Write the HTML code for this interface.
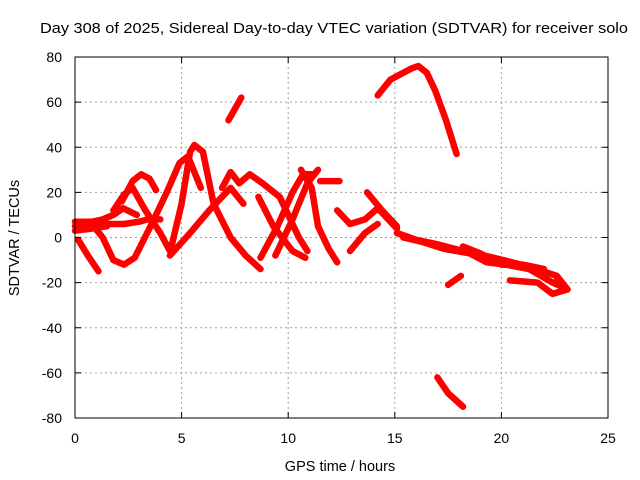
<!DOCTYPE html>
<html><head><meta charset="utf-8"><style>
html,body{margin:0;padding:0;background:#fff;}
svg{display:block;font-family:"Liberation Sans",sans-serif;}
</style></head><body>
<svg id="chart" width="640" height="480" viewBox="0 0 640 480">
<text x="40" y="33" font-size="15" textLength="588" lengthAdjust="spacingAndGlyphs">Day 308 of 2025, Sidereal Day-to-day VTEC variation (SDTVAR) for receiver solo</text>
<g id="grid"></g>
<g id="series"></g>
<rect x="75" y="57" width="533" height="361" fill="none" stroke="#000" stroke-width="1"/>
<g id="ticks"></g>
<text x="340" y="471" font-size="14.5" text-anchor="middle">GPS time / hours</text>
<text transform="translate(19,238) rotate(-90)" font-size="14.5" text-anchor="middle">SDTVAR / TECUs</text>
</svg>
<script>
const xTicks = [0,5,10,15,20,25];
const yTicks = [-80,-60,-40,-20,0,20,40,60,80];
// tracks: arrays of [hour] and matching [SDTVAR]
const trackHours = [
 [0.15,0.6,1.1],
 [0,0.8,1.3,1.8,2.25,2.9],
 [0,0.8,1.6,2.3,3.0,3.4,4.0],
 [0,0.8,1.5],
 [0.7,1.3,1.8,2.3,2.8,3.7,4.3,4.9,5.3,5.9],
 [1.8,2.3,2.7,3.3,4.0,4.45],
 [2.2,2.7,3.1,3.5,3.8],
 [4.5,5.0,5.4,5.6,6.0,6.5,7.3,8.0,8.7],
 [4.45,5.4,6.3,7.3,7.9],
 [6.9,7.3,7.7,8.2,8.8,9.6,10.0,10.5,10.9],
 [7.2,7.8],
 [8.7,9.5,10.2,10.7,11.2],
 [9.4,10.2,10.9,11.4],
 [10.6,11.1,11.4,11.9,12.3],
 [8.6,9.3,10.2,10.8],
 [11.5,12.0,12.4],
 [12.3,12.9,13.6,14.2,15.1],
 [12.9,13.6,14.2],
 [13.7,14.4,15.1],
 [14.2,14.8,15.4,15.8,16.1,16.5,16.9,17.4,17.9],
 [15.1,16.0,17.0,18.2,19.2,20.1,21.3,22.6,23.1],
 [15.4,16.3,17.3,18.5,19.3,20.2,21.3,22.4,22.9],
 [18.2,19.0,20.0,21.0,22.0],
 [20.4,21.7,22.4,23.1,22.6],
 [17.5,18.1],
 [17.0,17.5,18.2]
];
const trackValues = [
 [-1,-8,-15],
 [7,7,8,10,13,10],
 [5,6,6,6,7,8,8],
 [3,4,5],
 [7,0,-10,-12,-9,8,20,33,36,22],
 [12,19,22,12,2,-6],
 [16,25,28,26,21],
 [-5,15,38,41,38,15,0,-8,-14],
 [-8,2,12,22,15],
 [22,29,24,28,24,18,10,0,-6],
 [52,62],
 [-9,5,20,28,28],
 [-8,8,24,30],
 [30,22,5,-5,-11],
 [18,5,-6,-9],
 [25,25,25],
 [12,6,8,13,4],
 [-6,2,6],
 [20,12,5],
 [63,70,73,75,76,73,65,52,37],
 [2,-1,-3,-6,-8,-10,-13,-17,-23],
 [0,-2,-5,-7,-11,-12,-14,-20,-22],
 [-4,-7,-12,-12,-14],
 [-19,-20,-25,-23,-19],
 [-21,-17],
 [-62,-69,-75]
];
const X0=75,X1=608,Y0=418,Y1=57;
function xs(h){return X0+(h-0)/(25-0)*(X1-X0);}
function ys(v){return Y0-(v+80)/160*(Y0-Y1);}
const NS="http://www.w3.org/2000/svg";
const grid=document.getElementById('grid'),ticks=document.getElementById('ticks'),ser=document.getElementById('series');
xTicks.forEach(t=>{
 const x=xs(t);
 if(t>0&&t<25){const l=document.createElementNS(NS,'line');
 
 
 l.setAttribute('x1',x);l.setAttribute('x2',x);l.setAttribute('y1',Y1);l.setAttribute('y2',Y0);
 l.setAttribute('stroke','#a0a0a0');l.setAttribute('stroke-dasharray','2,3');grid.appendChild(l);}
 const tk=document.createElementNS(NS,'path');
 
 
 tk.setAttribute('d',`M${x},${Y0}v-6M${x},${Y1}v6`);tk.setAttribute('stroke','#000');ticks.appendChild(tk);
 const tx=document.createElementNS(NS,'text');
 
 
 tx.setAttribute('x',x);tx.setAttribute('y',443);tx.setAttribute('font-size','14');tx.setAttribute('text-anchor','middle');
 tx.textContent=t;ticks.appendChild(tx);
});
yTicks.forEach(t=>{
 const y=ys(t);
 if(t>-80&&t<80){const l=document.createElementNS(NS,'line');
 
 
 l.setAttribute('x1',X0);l.setAttribute('x2',X1);l.setAttribute('y1',y);l.setAttribute('y2',y);
 l.setAttribute('stroke','#a0a0a0');l.setAttribute('stroke-dasharray','2,3');grid.appendChild(l);}
 const tk=document.createElementNS(NS,'path');
 
 
 tk.setAttribute('d',`M${X0},${y}h6M${X1},${y}h-6`);tk.setAttribute('stroke','#000');ticks.appendChild(tk);
 const tx=document.createElementNS(NS,'text');
 
 
 tx.setAttribute('x',62);tx.setAttribute('y',y+5);tx.setAttribute('font-size','14');tx.setAttribute('text-anchor','end');
 tx.textContent=t;ticks.appendChild(tx);
});
trackHours.forEach((hs,i)=>{
 const vs=trackValues[i];
 const pts=hs.map((h,j)=>xs(h).toFixed(1)+','+ys(vs[j]).toFixed(1)).join(' ');
 const p=document.createElementNS(NS,'polyline');
 
 
 p.setAttribute('points',pts);p.setAttribute('fill','none');p.setAttribute('stroke','#ff0000');
 p.setAttribute('stroke-width','6.5');p.setAttribute('stroke-linejoin','round');p.setAttribute('stroke-linecap','round');
 ser.appendChild(p);
});
</script>
</body></html>
